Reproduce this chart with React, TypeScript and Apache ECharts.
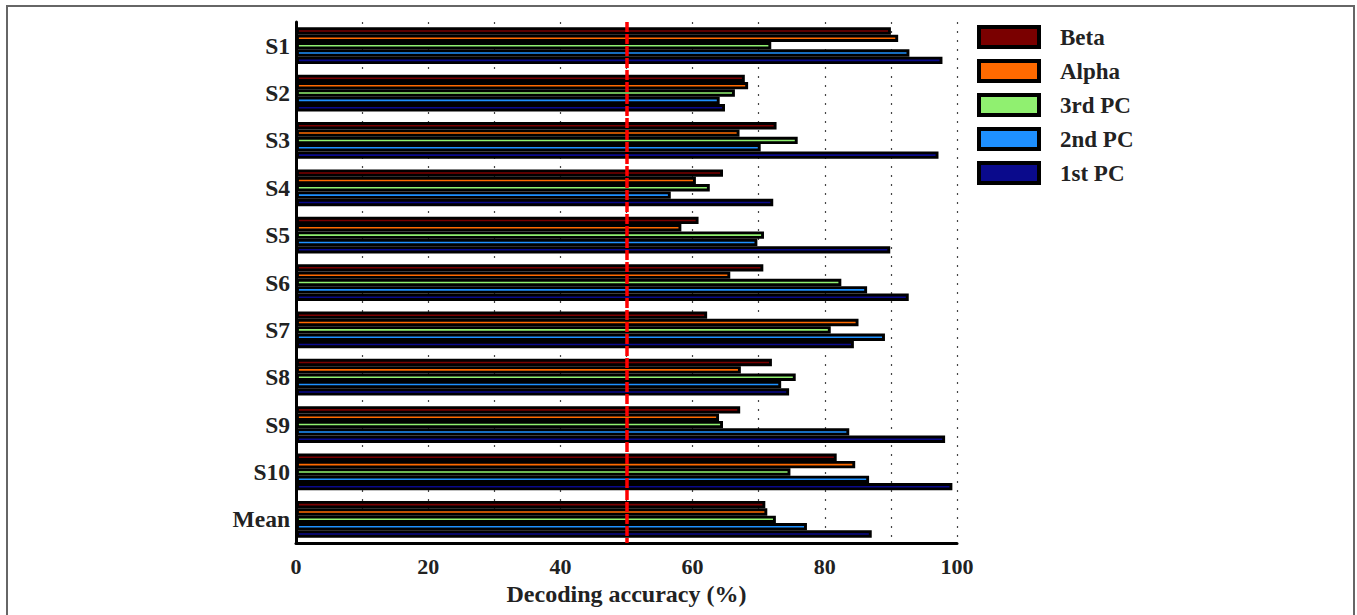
import React, { useEffect, useRef } from "react";
import * as echarts from "echarts";

const categories = ["S1", "S2", "S3", "S4", "S5", "S6", "S7", "S8", "S9", "S10", "Mean"];
const beta = [90.0, 67.9, 72.7, 64.6, 60.9, 70.7, 62.2, 72.0, 67.2, 81.8, 71.0];
const alpha = [91.1, 68.4, 67.1, 60.5, 58.3, 65.7, 85.1, 67.3, 64.0, 84.6, 71.3];
const pc3 = [71.9, 66.4, 75.9, 62.6, 70.8, 82.5, 80.9, 75.6, 64.6, 74.8, 72.6];
const pc2 = [92.8, 64.1, 70.3, 56.7, 69.8, 86.4, 89.1, 73.4, 83.7, 86.7, 77.3];
const pc1 = [97.8, 64.9, 97.2, 72.2, 89.9, 92.7, 84.4, 74.6, 98.2, 99.3, 87.1];
const seriesNames = ["Beta", "Alpha", "3rd PC", "2nd PC", "1st PC"];
const seriesColors = ["#7a0000", "#ff6a00", "#90f070", "#1e90ff", "#0a0a8c"];
const xTicks = [0, 20, 40, 60, 80, 100];
const chanceLevel = 50;

const FONT = "'Liberation Serif', 'Times New Roman', serif";

export default function App() {
  const ref = useRef<HTMLDivElement>(null);
  useEffect(() => {
    document.body.style.margin = "0";
    const chart = echarts.init(ref.current!, null, { renderer: "svg" });
    const data = [beta, alpha, pc3, pc2, pc1];
    const series: any[] = data.map((d, i) => ({
      name: seriesNames[i],
      type: "bar",
      data: d,
      barWidth: 7.35,
      barGap: "0%",
      itemStyle: { color: seriesColors[i], borderColor: "#000", borderWidth: 2.9 },
      emphasis: { disabled: true },
    }));
    series.push({
      name: "chance",
      type: "line",
      data: [],
      z: 20,
      silent: true,
      markLine: {
        silent: true,
        symbol: "none",
        label: { show: false },
        lineStyle: { color: "#ff0000", width: 3.5, type: [10, 2] },
        data: [{ xAxis: chanceLevel }],
      },
    });
    chart.setOption({
      animation: false,
      textStyle: { fontFamily: FONT },
      grid: { left: 296, right: 400, top: 22, bottom: 72 },
      legend: {
        data: seriesNames,
        orient: "vertical",
        left: 972,
        top: 20,
        itemWidth: 60,
        itemHeight: 20,
        itemGap: 10,
        icon: "rect",
        itemStyle: { borderColor: "#000", borderWidth: 4 },
        textStyle: { fontFamily: FONT, fontWeight: "bold", fontSize: 23, color: "#222", padding: [0, 0, 0, 16] },
      },
      xAxis: {
        type: "value",
        min: 0,
        max: 100,
        interval: 10,
        name: "Decoding accuracy (%)",
        nameLocation: "middle",
        nameGap: 34,
        nameTextStyle: { fontFamily: FONT, fontWeight: "bold", fontSize: 24, color: "#222" },
        axisLine: { show: true, lineStyle: { color: "#000", width: 3 } },
        axisTick: { show: false },
        axisLabel: {
          fontFamily: FONT,
          fontWeight: "bold",
          fontSize: 22,
          color: "#222",
          margin: 12,
          formatter: (v: number) => (xTicks.includes(v) ? String(v) : ""),
        },
        splitLine: { show: true, lineStyle: { color: "#444", width: 1.2, type: [2, 7] } },
      },
      yAxis: {
        type: "category",
        data: categories,
        inverse: true,
        axisLine: { show: true, lineStyle: { color: "#000", width: 3 } },
        axisTick: { show: false },
        axisLabel: { fontFamily: FONT, fontWeight: "bold", fontSize: 23.5, color: "#222", margin: 6 },
        splitLine: { show: false },
      },
      graphic: [
        {
          type: "rect",
          shape: { x: 7, y: 6, width: 1347, height: 640 },
          style: { fill: "none", stroke: "#666", lineWidth: 2 },
          silent: true,
        },
      ],
      series,
    });
    return () => chart.dispose();
  }, []);
  return <div ref={ref} style={{ width: 1357, height: 615 }} />;
}
